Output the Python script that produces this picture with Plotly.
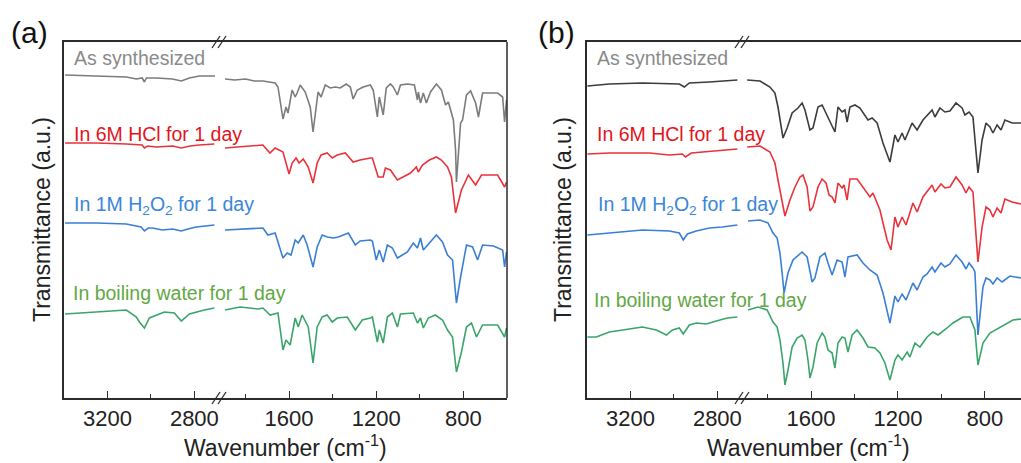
import plotly.graph_objects as go

W, H = 1021, 463

# ---------------- Panel (a) data: wavenumber (cm-1) / transmittance (a.u., offset-stacked) -------------
a_grey_L_wn = [3395, 3250, 3113, 3067, 3040, 3030, 3021, 2975, 2901, 2860, 2823, 2777, 2705]
a_grey_L_t = [325, 324, 323, 321, 322, 318, 322, 322, 321, 319, 322, 324, 324]
a_grey_R_wn = [1894, 1850, 1800, 1760, 1720, 1664, 1651, 1628, 1614, 1605, 1586, 1572, 1563, 1549, 1526, 1503,
               1490, 1476, 1467, 1453, 1434, 1411, 1388, 1365, 1338, 1319, 1306, 1287, 1260, 1227, 1214, 1195,
               1186, 1168, 1154, 1135, 1122, 1103, 1089, 1057, 1025, 1011, 1007, 997, 984, 970, 951, 924, 901,
               882, 869, 846, 836, 832, 813, 804, 786, 767, 744, 731, 712, 685, 643, 620, 611, 602]
a_grey_R_t = [321, 320, 321, 319, 319, 317, 313, 281, 293, 287, 310, 303, 307, 315, 308, 293,
              268, 290, 308, 303, 315, 312, 313, 312, 316, 313, 301, 310, 313, 315, 310, 283,
              303, 285, 312, 316, 313, 305, 315, 316, 315, 300, 308, 297, 307, 297, 308, 316, 310,
              295, 298, 280, 250, 218, 277, 280, 305, 309, 297, 283, 307, 307, 307, 303, 278, 300]

a_red_L_wn = [3395, 3250, 3113, 3040, 3030, 3015, 2975, 2900, 2860, 2820, 2777, 2708]
a_red_L_t = [257, 257, 256, 255, 252, 254, 253, 254, 252, 254, 255, 256]
a_red_R_wn = [1894, 1797, 1720, 1688, 1664, 1628, 1605, 1600, 1586, 1568, 1554, 1535, 1512, 1490, 1471, 1453,
              1425, 1402, 1379, 1342, 1306, 1274, 1227, 1218, 1191, 1168, 1158, 1135, 1103, 1043, 1016, 1007,
              988, 956, 924, 901, 873, 855, 836, 809, 777, 744, 717, 643, 611, 602]
a_red_R_t = [252, 254, 255, 247, 252, 248, 230, 226, 237, 242, 237, 241, 233, 217, 237, 245,
             247, 242, 245, 247, 238, 240, 242, 242, 223, 223, 232, 230, 220, 227, 233, 228,
             235, 240, 243, 240, 233, 223, 187, 210, 225, 215, 225, 225, 213, 218]

a_blue_L_wn = [3395, 3250, 3113, 3045, 3030, 3012, 2993, 2947, 2900, 2860, 2830, 2791, 2708]
a_blue_L_t = [177, 177, 176, 173, 169, 172, 172, 170, 171, 169, 171, 173, 175]
a_blue_R_wn = [1894, 1720, 1697, 1664, 1628, 1609, 1591, 1572, 1558, 1535, 1517, 1490, 1471, 1448, 1425, 1397,
               1374, 1328, 1296, 1274, 1227, 1218, 1200, 1186, 1168, 1149, 1126, 1103, 1057, 1030, 1011, 997,
               984, 951, 924, 896, 873, 850, 832, 813, 786, 758, 735, 712, 662, 620, 611, 602]
a_blue_R_t = [170, 172, 165, 167, 142, 147, 145, 160, 157, 165, 155, 133, 153, 165, 163, 162,
              163, 167, 155, 159, 160, 159, 140, 150, 138, 155, 152, 142, 148, 157, 152, 162,
              150, 158, 165, 158, 145, 140, 97, 123, 155, 153, 140, 155, 154, 150, 133, 148]

a_green_L_wn = [3395, 3250, 3113, 3067, 3053, 3030, 3007, 2938, 2892, 2860, 2823, 2754, 2708]
a_green_L_t = [86, 88, 90, 83, 78, 72, 82, 88, 87, 79, 86, 90, 92]
a_green_R_wn = [1894, 1825, 1743, 1720, 1687, 1651, 1628, 1614, 1595, 1572, 1558, 1540, 1512, 1490, 1471, 1448,
                1425, 1402, 1379, 1333, 1296, 1264, 1227, 1218, 1195, 1186, 1168, 1149, 1126, 1103, 1089, 1030,
                1011, 997, 984, 961, 929, 896, 873, 850, 832, 809, 786, 763, 740, 712, 643, 611, 602]
a_green_R_t = [90, 93, 91, 92, 85, 87, 50, 60, 55, 82, 73, 85, 73, 37, 73, 83,
               85, 78, 82, 83, 70, 80, 82, 83, 58, 70, 57, 83, 87, 73, 86, 87,
               77, 82, 72, 82, 85, 80, 70, 63, 28, 48, 73, 77, 63, 75, 75, 63, 72]

# ---------------- Panel (b) data -------------
b_black_L_wn = [3398, 3297, 3145, 3034, 2975, 2952, 2929, 2837, 2708]
b_black_L_t = [314, 316, 317, 316, 316, 313, 317, 318, 320]
b_black_R_wn = [1894, 1835, 1789, 1766, 1752, 1729, 1710, 1687, 1660, 1641, 1628, 1605, 1591, 1568, 1549, 1526,
                1490, 1476, 1457, 1444, 1434, 1421, 1398, 1375, 1338, 1319, 1296, 1269, 1241, 1237, 1214, 1200,
                1181, 1168, 1135, 1112, 1085, 1043, 1030, 1007, 984, 961, 933, 905, 892, 873, 855, 832, 813,
                795, 777, 763, 744, 726, 708, 675, 634]
b_black_R_t = [320, 319, 313, 307, 293, 262, 272, 287, 292, 297, 290, 270, 272, 293, 295, 285,
               268, 293, 288, 290, 278, 293, 295, 292, 280, 282, 277, 257, 240, 238, 265, 258,
               267, 260, 277, 270, 280, 290, 283, 292, 288, 289, 297, 292, 285, 288, 283, 227, 260,
               277, 273, 267, 275, 270, 280, 277, 277]

b_red_L_wn = [3398, 3297, 3113, 3021, 2961, 2947, 2920, 2800, 2708]
b_red_L_t = [246, 247, 247, 245, 246, 243, 247, 249, 251]
b_red_R_wn = [1894, 1835, 1789, 1766, 1752, 1733, 1720, 1697, 1674, 1651, 1637, 1618, 1605, 1591, 1568, 1549,
              1531, 1517, 1503, 1490, 1476, 1457, 1448, 1434, 1421, 1388, 1361, 1329, 1315, 1283, 1250, 1232,
              1214, 1200, 1181, 1163, 1131, 1112, 1085, 1043, 1030, 1002, 984, 961, 933, 905, 887, 873, 855,
              832, 813, 795, 777, 763, 744, 726, 708, 675, 634]
b_red_R_t = [253, 254, 248, 237, 220, 200, 184, 200, 213, 223, 225, 213, 189, 193, 213, 221,
             217, 205, 203, 197, 217, 212, 215, 200, 221, 221, 213, 203, 207, 190, 160, 150,
             183, 173, 183, 175, 197, 188, 203, 215, 208, 216, 212, 213, 223, 215, 207, 213, 208,
             138, 173, 193, 190, 183, 192, 187, 201, 198, 196]

b_blue_L_wn = [3398, 3297, 3145, 3021, 2975, 2957, 2938, 2897, 2837, 2777, 2708]
b_blue_L_t = [165, 167, 170, 169, 167, 160, 166, 169, 172, 173, 175]
b_blue_R_wn = [1890, 1835, 1798, 1775, 1756, 1743, 1733, 1724, 1706, 1683, 1641, 1618, 1595, 1582, 1559, 1536,
               1522, 1503, 1480, 1457, 1444, 1430, 1388, 1361, 1329, 1296, 1269, 1237, 1214, 1200, 1181, 1163,
               1131, 1112, 1085, 1066, 1043, 1030, 1002, 984, 961, 933, 905, 887, 873, 855, 846, 832, 809,
               795, 777, 763, 744, 721, 685, 634]
b_blue_R_t = [179, 180, 177, 167, 162, 147, 127, 107, 127, 140, 148, 143, 118, 122, 143, 147,
              137, 125, 140, 138, 123, 143, 145, 137, 130, 125, 107, 77, 104, 98, 106, 100,
              117, 110, 123, 126, 133, 128, 137, 133, 136, 145, 138, 131, 137, 132, 128, 65, 113,
              122, 120, 116, 122, 118, 124, 122]

b_green_L_wn = [3398, 3357, 3297, 3145, 3081, 3034, 3007, 2975, 2957, 2929, 2897, 2851, 2805, 2754, 2708]
b_green_L_t = [63, 63, 68, 73, 70, 65, 70, 72, 66, 75, 77, 76, 79, 82, 83]
b_green_R_wn = [1890, 1844, 1802, 1775, 1756, 1743, 1729, 1720, 1706, 1687, 1664, 1641, 1628, 1614, 1605, 1591,
                1572, 1549, 1536, 1522, 1503, 1490, 1476, 1457, 1444, 1430, 1411, 1388, 1361, 1338, 1306, 1283,
                1260, 1237, 1214, 1200, 1181, 1158, 1145, 1122, 1099, 1066, 1039, 1016, 974, 947, 924, 901,
                869, 846, 832, 809, 777, 754, 731, 698, 671, 634]
b_green_R_t = [90, 93, 90, 78, 73, 60, 37, 15, 30, 53, 62, 65, 60, 40, 22, 33,
               57, 67, 63, 50, 47, 32, 57, 63, 62, 48, 65, 70, 62, 53, 52, 47,
               37, 20, 40, 45, 40, 48, 43, 57, 53, 63, 68, 65, 72, 77, 80, 83,
               83, 70, 35, 57, 67, 70, 73, 77, 80, 81]

# tick labels
major_ticks = [3200, 2800, 1600, 1200, 800]
minor_ticks = [3000, 1800, 1400, 1000]

labels = ["As synthesized", "In 6M HCl for 1 day", "In 1M H<sub>2</sub>O<sub>2</sub> for 1 day",
          "In boiling water for 1 day"]

# ---------------- styling -------------
FONT = "Liberation Sans, Arial, sans-serif"
AX = "#2b2b2b"
c_grey, c_black, c_red, c_blue, c_green = "#7c7c7c", "#3c3c3c", "#e8333b", "#3a7fd4", "#3aa56b"
lab_cols = ["#8a8a8a", "#e3141b", "#3a86d8", "#62a844"]


def px(x):
    return x / W


def py(y):
    return 1 - y / H


fig = go.Figure()

series = [
    ("x", "x2", "y", [(a_grey_L_wn, a_grey_L_t, a_grey_R_wn, a_grey_R_t, c_grey),
                      (a_red_L_wn, a_red_L_t, a_red_R_wn, a_red_R_t, c_red),
                      (a_blue_L_wn, a_blue_L_t, a_blue_R_wn, a_blue_R_t, c_blue),
                      (a_green_L_wn, a_green_L_t, a_green_R_wn, a_green_R_t, c_green)]),
    ("x3", "x4", "y2", [(b_black_L_wn, b_black_L_t, b_black_R_wn, b_black_R_t, c_black),
                        (b_red_L_wn, b_red_L_t, b_red_R_wn, b_red_R_t, c_red),
                        (b_blue_L_wn, b_blue_L_t, b_blue_R_wn, b_blue_R_t, c_blue),
                        (b_green_L_wn, b_green_L_t, b_green_R_wn, b_green_R_t, c_green)]),
]
for xl, xr, yy, lst in series:
    for (lw, lt, rw, rt, col) in lst:
        fig.add_trace(go.Scatter(x=lw, y=lt, xaxis=xl, yaxis=yy, mode="lines",
                                 line=dict(color=col, width=1.6), showlegend=False, hoverinfo="skip"))
        fig.add_trace(go.Scatter(x=rw, y=rt, xaxis=xr, yaxis=yy, mode="lines",
                                 line=dict(color=col, width=1.6), showlegend=False, hoverinfo="skip"))

xcommon = dict(showgrid=False, zeroline=False, showline=True, linecolor=AX, linewidth=1.5, mirror=True,
               ticks="inside", ticklen=7, tickwidth=1.3, tickcolor=AX, tickmode="array",
               tickvals=major_ticks, ticktext=[str(v) for v in major_ticks],
               tickfont=dict(family=FONT, size=22, color="#222"),
               minor=dict(ticks="inside", ticklen=4, tickwidth=1.3, tickcolor=AX, tickmode="array",
                          tickvals=minor_ticks))
ycommon = dict(showgrid=False, zeroline=False, showline=True, linecolor=AX, linewidth=1.5, mirror=False,
               showticklabels=False, ticks="", range=[2, 358], domain=[py(398), py(42)])

fig.update_layout(
    width=W, height=H, autosize=False, margin=dict(l=0, r=0, t=0, b=0),
    paper_bgcolor="white", plot_bgcolor="white",
    xaxis=dict(xcommon, domain=[px(64), px(220)], range=[3400, 2682], anchor="y"),
    xaxis2=dict(xcommon, domain=[px(220), px(507)], range=[1917, 600], anchor="y"),
    xaxis3=dict(xcommon, domain=[px(587), px(743)], range=[3400, 2682], anchor="y2"),
    xaxis4=dict(xcommon, domain=[px(743), 1.0], range=[1913, 634], anchor="y2"),
    yaxis=dict(ycommon, anchor="x"),
    yaxis2=dict(ycommon, anchor="x3"),
)

shapes = []
# right frame of panel (a)
shapes.append(dict(type="line", xref="paper", yref="paper", x0=px(507), x1=px(507), y0=py(42), y1=py(398),
                   line=dict(color=AX, width=1.5)))
# axis-break marks
for bx in (220, 743):
    for by in (42, 398):
        for dx in (-4, 2):
            shapes.append(dict(type="line", xref="paper", yref="paper",
                               x0=px(bx + dx - 4), y0=py(by + 6), x1=px(bx + dx + 4), y1=py(by - 6),
                               line=dict(color=AX, width=1.3)))
fig.update_layout(shapes=shapes)

ann = []
# panel letters
ann.append(dict(text="(a)", x=px(9), y=py(33), xref="paper", yref="paper", xanchor="left", yanchor="middle",
                showarrow=False, font=dict(family=FONT, size=30, color="#111")))
ann.append(dict(text="(b)", x=px(536), y=py(33), xref="paper", yref="paper", xanchor="left", yanchor="middle",
                showarrow=False, font=dict(family=FONT, size=30, color="#111")))
# axis titles
for cx, ycx in ((285, 42), (808, 563)):
    ann.append(dict(text="Wavenumber (cm<sup>-1</sup>)", x=px(cx), y=py(446), xref="paper", yref="paper",
                    xanchor="center", yanchor="middle", showarrow=False,
                    font=dict(family=FONT, size=23, color="#222")))
    ann.append(dict(text="Transmittance (a.u.)", x=px(ycx), y=py(220), xref="paper", yref="paper",
                    xanchor="center", yanchor="middle", textangle=-90, showarrow=False,
                    font=dict(family=FONT, size=23, color="#222")))
# curve labels
a_lab_pos = [(72, 58), (72, 134), (72, 206), (71, 293)]
b_lab_pos = [(595, 58), (595, 134), (596, 206), (592, 300)]
for pos in (a_lab_pos, b_lab_pos):
    for (lx, ly), txt, col in zip(pos, labels, lab_cols):
        ann.append(dict(text=txt, x=px(lx), y=py(ly), xref="paper", yref="paper", xanchor="left",
                        yanchor="middle", showarrow=False, font=dict(family=FONT, size=19.5, color=col)))
fig.update_layout(annotations=ann)

fig.write_html("out.html")
